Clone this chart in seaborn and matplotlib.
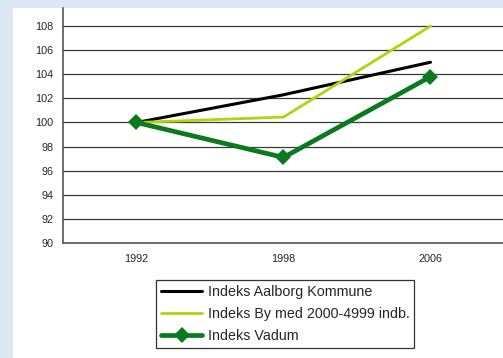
import matplotlib
matplotlib.use("Agg")
import matplotlib.pyplot as plt
from matplotlib.patches import Rectangle
from matplotlib.ticker import FixedLocator
import seaborn as sns
import pandas as pd

years = ["1992", "1998", "2006"]
aalborg = [100.0, 102.3, 105.0]
by_2000_4999 = [100.0, 100.45, 108.0]
vadum = [100.0, 97.1, 103.8]
labels = ["Indeks Aalborg Kommune", "Indeks By med 2000-4999 indb.", "Indeks Vadum"]
yticks = list(range(90, 109, 2))

sns.set_style("white")
plt.rcParams["font.family"] = ["Liberation Sans", "DejaVu Sans"]

fig = plt.figure(figsize=(5.03, 3.58), dpi=100)
fig.patch.set_facecolor("#dce9f4")
fig.patches.append(Rectangle((13 / 503, 0), 1, (358 - 8) / 358, transform=fig.transFigure,
                             facecolor="white", edgecolor="none", zorder=-5))

ax = fig.add_axes([63 / 503, 115 / 358, 441 / 503, 235 / 358])
ax.set_facecolor("none")

pos = list(range(len(years)))
df = pd.DataFrame({"x": pos * 3,
                   "v": aalborg + by_2000_4999 + vadum,
                   "s": [labels[0]] * 3 + [labels[1]] * 3 + [labels[2]] * 3})

styles = [
    dict(color="#000000", lw=2.2, marker=None),
    dict(color="#b3d30c", lw=2.0, marker=None),
    dict(color="#0b7a1f", lw=3.4, marker="D"),
]
for lab, st in zip(labels, styles):
    sub = df[df["s"] == lab]
    kw = dict(marker=st["marker"], markersize=8.5, markeredgewidth=0) if st["marker"] else {}
    sns.lineplot(data=sub, x="x", y="v", ax=ax, color=st["color"], linewidth=st["lw"],
                 label=lab, sort=False, zorder=3, **kw)

ax.set_xlim(-0.5, 2.5)
ax.set_ylim(90, 109.5)
ax.set_yticks(yticks)
ax.set_yticklabels([str(t) for t in yticks])
ax.set_xticks(pos)
ax.set_xticklabels(years)
ax.xaxis.set_minor_locator(FixedLocator([0.5, 1.5]))
ax.tick_params(axis="x", which="major", length=0, labelsize=7.8, pad=8)
ax.tick_params(axis="x", which="minor", length=3, width=0.8, color="#555555", direction="out")
ax.tick_params(axis="y", length=4, width=0.8, color="#555555", direction="out", labelsize=7.8, pad=3)
ax.set_xlabel("")
ax.set_ylabel("")
ax.yaxis.grid(True, color="#3a3a3a", linewidth=0.9)
ax.set_axisbelow(True)
for s in ["top", "right"]:
    ax.spines[s].set_visible(False)
ax.spines["left"].set_color("#555555")
ax.spines["left"].set_linewidth(1.2)
ax.spines["bottom"].set_color("#555555")
ax.spines["bottom"].set_linewidth(1.2)

handles, labs = ax.get_legend_handles_labels()
if ax.legend_:
    ax.legend_.remove()
leg = fig.legend(handles, labs, loc="lower left",
                 bbox_to_anchor=(156 / 503, 10 / 358), fontsize=10.3, frameon=True,
                 fancybox=False, edgecolor="black", handlelength=2.9, handletextpad=0.35,
                 borderpad=0.35, labelspacing=0.55, borderaxespad=0)
leg.get_frame().set_linewidth(0.9)

fig.savefig("out.png", dpi=100)
